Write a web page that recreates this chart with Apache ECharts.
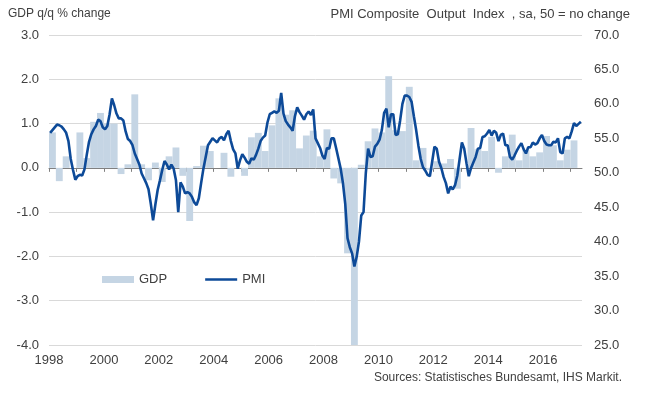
<!DOCTYPE html>
<html>
<head>
<meta charset="utf-8">
<script src="https://cdn.jsdelivr.net/npm/echarts@6/dist/echarts.min.js"></script>
<style>html,body{margin:0;padding:0;background:#fff}#c{width:645px;height:394px}</style>
</head>
<body>
<div id="c"></div>
<script>
// Quarterly GDP q/q % change, 1998Q1 .. 2017Q1
const gdpStartYear = 1998;
const gdpValues = [
  0.8, -0.3, 0.26, 0.0,
  0.8, 0.22, 1.04, 1.24,
  1.0, 1.0, -0.14, 0.08,
  1.66, 0.08, -0.28, 0.12,
  -0.32, 0.26, 0.46, -0.18,
  -1.2, 0.04, 0.5, 0.38,
  0.0, 0.34, -0.2, 0.0,
  -0.18, 0.69, 0.79, 0.38,
  0.96, 1.57, 1.2, 1.3,
  0.44, 0.73, 0.84, 0.26,
  0.87, -0.24, -0.35, -1.93,
  -4.0, 0.07, 0.6, 0.89,
  0.8, 2.07, 0.85, 0.83,
  1.83, 0.17, 0.45, -0.05,
  0.15, 0.1, 0.2, -0.47,
  0.0, 0.9, 0.42, 0.38,
  0.7, -0.11, 0.26, 0.75,
  0.17, 0.4, 0.26, 0.35,
  0.72, 0.51, 0.17, 0.41,
  0.62
];
// Monthly PMI Composite Output Index, Jan 1998 .. May 2017
const pmiValues = [
  55.8, 56.2, 56.6, 57.0, 56.9, 56.7, 56.3, 55.8, 54.6, 52.0, 50.4, 49.0,
  49.5, 49.7, 49.6, 50.5, 52.6, 54.5, 55.6, 56.3, 56.8, 57.7, 57.5, 56.6,
  56.3, 56.8, 58.5, 60.8, 59.8, 58.6, 57.9, 57.9, 57.6, 56.0, 54.9, 54.6,
  54.0, 52.8, 52.0, 51.2, 49.9, 49.2, 48.5, 47.6, 45.5, 43.1, 45.4, 47.5,
  48.9, 50.4, 51.7, 51.2, 50.5, 51.2, 50.6, 48.9, 44.3, 48.6, 48.0, 47.0,
  47.2, 47.0, 46.5, 45.7, 45.3, 46.3, 48.5, 50.6, 52.3, 54.0, 54.5, 55.0,
  54.7, 54.4, 55.0, 55.2, 54.7, 55.6, 56.1, 54.6, 53.4, 52.8, 50.6, 51.8,
  52.7, 52.2, 51.6, 51.3, 52.1, 51.9, 52.6, 53.5, 54.6, 55.1, 55.4, 57.3,
  58.5, 58.7, 58.9, 58.7, 59.0, 61.6, 58.6, 57.5, 57.0, 56.6, 56.1, 58.2,
  59.5, 58.8, 58.3, 57.7, 58.5, 58.9, 58.4, 59.2, 55.0, 54.3, 53.6, 52.5,
  52.0, 53.6, 53.5, 55.0, 55.0, 53.6, 52.1, 50.6, 48.5, 45.5, 40.5, 39.2,
  38.3, 36.4, 37.8, 40.0, 43.8, 44.3, 50.0, 53.5, 52.3, 52.4, 53.8, 54.2,
  54.8, 56.2, 58.7, 59.3, 56.6, 58.5, 58.5, 55.5, 55.6, 57.6, 60.0, 61.2,
  61.2, 61.0, 60.3, 58.2, 56.2, 53.9, 52.0, 50.8, 50.3, 49.7, 49.5, 51.6,
  53.8, 53.5, 51.6, 50.7, 49.4, 48.5, 47.0, 48.0, 47.6, 48.2, 49.6, 52.0,
  54.4, 53.5, 51.4, 49.5, 50.7, 51.5, 52.3, 53.5, 53.6, 55.2, 55.3, 55.7,
  56.2, 55.4, 56.1, 55.8, 54.6, 55.5, 55.7, 54.0, 54.0, 52.3, 51.9, 52.5,
  53.2, 53.8, 54.3, 53.4, 52.8, 53.7, 53.7, 54.4, 54.1, 54.3, 55.0, 55.5,
  54.6, 54.1, 54.0, 54.0, 54.5, 54.4, 55.0, 53.0, 52.8, 55.0, 55.2, 55.0,
  56.0, 57.2, 56.8, 57.1, 57.4
];
const yearTicks = [1998,1999,2000,2001,2002,2003,2004,2005,2006,2007,2008,2009,2010,2011,2012,2013,2014,2015,2016,2017];
const yearLabels = [1998,2000,2002,2004,2006,2008,2010,2012,2014,2016];
const leftTicks = [-4,-3,-2,-1,0,1,2,3];
const rightTicks = [25,30,35,40,45,50,55,60,65,70];
const axisMonths = 233; // Jan 1998 .. end of May 2017

const toMonth = y => (y - gdpStartYear) * 12;
const gdpData = gdpValues.map((v, i) => [i * 3 + 1.5, v]);
const pmiData = pmiValues.map((v, i) => [i + 0.5, v]);

const FONT = '"Liberation Sans", Arial, sans-serif';
const TXT = '#404040';
const LINE = '#0d4a98';
const chart = echarts.init(document.getElementById('c'), null, {renderer: 'canvas'});
chart.setOption({
  animation: false,
  backgroundColor: '#fff',
  textStyle: {fontFamily: FONT},
  title: [
    {text: 'GDP q/q % change', left: 8, top: 8, padding: 0,
     textStyle: {fontSize: 12, fontWeight: 'normal', color: TXT, fontFamily: FONT}},
    {text: 'PMI Composite  Output  Index  , sa, 50 = no change', right: 15, top: 8, padding: 0,
     textStyle: {fontSize: 13, fontWeight: 'normal', color: TXT, fontFamily: FONT}},
    {text: 'Sources: Statistisches Bundesamt, IHS Markit.', right: 23, top: 372, padding: 0,
     textStyle: {fontSize: 12, fontWeight: 'normal', color: TXT, fontFamily: FONT}}
  ],
  legend: {
    left: 102, top: 273, padding: 0,
    itemWidth: 32, itemHeight: 7, itemGap: 38, symbolKeepAspect: true,
    textStyle: {fontSize: 13, color: TXT, fontFamily: FONT},
    data: [
      {name: 'GDP', icon: 'rect'},
      {name: 'PMI', icon: 'path://M0,0 L32,0 L32,2.6 L0,2.6 Z'}
    ]
  },
  grid: {left: 49, right: 63, top: 35, bottom: 49, containLabel: false},
  xAxis: [
    {type: 'value', min: 0, max: axisMonths,
     axisLine: {show: true, onZero: true, onZeroAxisIndex: 0, lineStyle: {color: '#808080', width: 1}},
     axisTick: {show: true, length: 4, lineStyle: {color: '#808080'}, customValues: yearTicks.map(toMonth)},
     axisLabel: {show: false},
     splitLine: {show: false}},
    {type: 'value', min: 0, max: axisMonths, position: 'bottom',
     axisLine: {show: false, onZero: false}, axisTick: {show: false}, splitLine: {show: false},
     axisLabel: {show: true, fontSize: 13, color: TXT, fontFamily: FONT, margin: 9,
       customValues: yearLabels.map(toMonth),
       formatter: v => String(Math.round(gdpStartYear + v / 12))}}
  ],
  yAxis: [
    {type: 'value', min: leftTicks[0], max: leftTicks[leftTicks.length - 1], interval: 1, position: 'left',
     axisLine: {show: false}, axisTick: {show: false},
     splitLine: {show: true, lineStyle: {color: '#d9d9d9', width: 1}},
     axisLabel: {fontSize: 13, color: TXT, fontFamily: FONT, margin: 10, formatter: v => v.toFixed(1)}},
    {type: 'value', min: rightTicks[0], max: rightTicks[rightTicks.length - 1], interval: 5, position: 'right',
     axisLine: {show: false}, axisTick: {show: false}, splitLine: {show: false},
     axisLabel: {fontSize: 13, color: TXT, fontFamily: FONT, margin: 12, formatter: v => v.toFixed(1)}}
  ],
  series: [
    {name: 'GDP', type: 'bar', xAxisIndex: 0, yAxisIndex: 0, data: gdpData,
     barWidth: '100%', itemStyle: {color: '#c5d5e4'}, silent: true},
    {name: 'PMI', type: 'line', xAxisIndex: 0, yAxisIndex: 1, data: pmiData,
     symbol: 'none', showSymbol: false, lineStyle: {color: LINE, width: 2.6}, itemStyle: {color: LINE},
     z: 3, silent: true}
  ]
});
</script>
</body>
</html>
